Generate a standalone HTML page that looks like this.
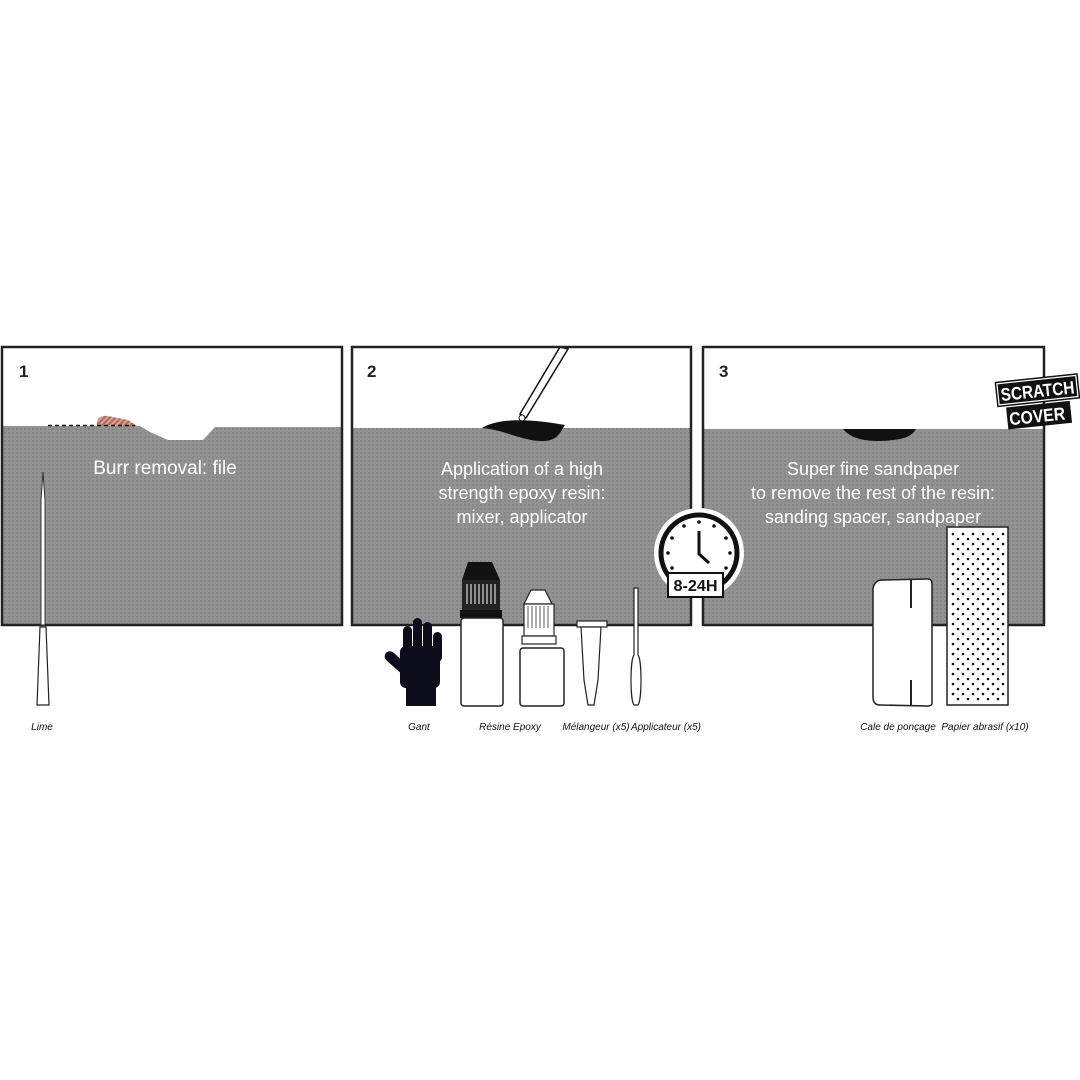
<!DOCTYPE html>
<html><head><meta charset="utf-8"><style>
html,body{margin:0;padding:0;background:#fff}
svg{display:block}
text{font-family:"Liberation Sans",sans-serif}
</style></head><body>
<svg width="1080" height="1080" viewBox="0 0 1080 1080" xmlns="http://www.w3.org/2000/svg">
<defs>
<pattern id="dots" width="4" height="4" patternUnits="userSpaceOnUse">
<rect width="4" height="4" fill="#929292"/><rect width="2" height="2" fill="#868686"/>
</pattern>
<pattern id="hatch" width="4" height="4" patternUnits="userSpaceOnUse" patternTransform="rotate(45)">
<rect width="4" height="4" fill="#d9a49a"/><rect width="2" height="4" fill="#b06a5c"/>
</pattern>
</defs>

<!-- Panel 1 -->
<rect x="2" y="347" width="340" height="278" fill="#fff"/>
<path d="M2,426 L140,426 L150,432 L168,440 L203,440 L215,427 L342,427 L342,625 L2,625 Z" fill="url(#dots)"/>
<path d="M97,426 C96,418 100,415 108,416 L128,420 L137,426 Z" fill="url(#hatch)"/>
<line x1="48" y1="425.5" x2="135" y2="425.5" stroke="#111" stroke-width="1.5" stroke-dasharray="4,3"/>
<rect x="2" y="347" width="340" height="278" fill="none" stroke="#222" stroke-width="2.5"/>
<text x="19" y="377" font-size="17" font-weight="900" fill="#222">1</text>
<text x="165" y="474" font-size="19" fill="#fff" text-anchor="middle">Burr removal: file</text>
<path d="M43,472 L45,500 L45,625 L41,625 L41,500 Z" fill="#fff" stroke="#333" stroke-width="1"/>
<path d="M40,627 L46,627 L49,705 L37,705 Z" fill="#fff" stroke="#222" stroke-width="1.2"/>
<text x="42" y="730" font-size="10" font-style="italic" fill="#111" text-anchor="middle">Lime</text>

<!-- Panel 2 -->
<rect x="352" y="347" width="339" height="278" fill="#fff"/>
<rect x="352" y="428" width="339" height="197" fill="url(#dots)"/>
<path d="M482,428 C495,420 520,417 565,425 C560,432 558,442 540,441 C520,440 505,430 482,428 Z" fill="#111"/>
<path d="M520,414 L560,347 L568,349 L526,418 Z" fill="#fff" stroke="#111" stroke-width="1.5"/>
<circle cx="522" cy="418" r="3" fill="#fff" stroke="#111"/>
<rect x="352" y="347" width="339" height="278" fill="none" stroke="#222" stroke-width="2.5"/>
<text x="367" y="377" font-size="17" font-weight="900" fill="#222">2</text>
<text x="522" y="475" font-size="18" fill="#fff" text-anchor="middle">Application of a high</text>
<text x="522" y="499" font-size="18" fill="#fff" text-anchor="middle">strength epoxy resin:</text>
<text x="522" y="523" font-size="18" fill="#fff" text-anchor="middle">mixer, applicator</text>

<!-- glove -->
<g fill="#0c0c1a">
<rect x="400" y="646" width="40" height="42" rx="6"/>
<rect x="403" y="626" width="9" height="36" rx="4.5"/>
<rect x="413" y="618" width="9" height="40" rx="4.5"/>
<rect x="423" y="622" width="9" height="36" rx="4.5"/>
<rect x="433" y="632" width="9" height="30" rx="4.5"/>
<path d="M386,660 C382,655 388,648 394,653 L406,664 L404,676 Z"/>
<rect x="406" y="680" width="30" height="26"/>
</g>
<!-- big bottle -->
<path d="M468,562 L492,562 L500,580 L462,580 Z" fill="#111"/>
<rect x="462" y="580" width="38" height="30" fill="#222"/>
<g stroke="#fff" stroke-width="1"><line x1="467" y1="584" x2="467" y2="604"/><line x1="471" y1="584" x2="471" y2="604"/><line x1="475" y1="584" x2="475" y2="604"/><line x1="479" y1="584" x2="479" y2="604"/><line x1="483" y1="584" x2="483" y2="604"/><line x1="487" y1="584" x2="487" y2="604"/><line x1="491" y1="584" x2="491" y2="604"/><line x1="495" y1="584" x2="495" y2="604"/></g>
<rect x="460" y="610" width="42" height="8" fill="#111"/>
<rect x="461" y="618" width="42" height="88" rx="3" fill="#fff" stroke="#222" stroke-width="1.5"/>
<!-- small bottle -->
<path d="M531,590 L545,590 L552,604 L524,604 Z" fill="#fff" stroke="#222" stroke-width="1.2"/>
<rect x="524" y="604" width="30" height="32" fill="#fff" stroke="#222" stroke-width="1.2"/>
<g stroke="#333" stroke-width="0.8"><line x1="528" y1="606" x2="528" y2="628"/><line x1="532" y1="606" x2="532" y2="628"/><line x1="536" y1="606" x2="536" y2="628"/><line x1="540" y1="606" x2="540" y2="628"/><line x1="544" y1="606" x2="544" y2="628"/><line x1="548" y1="606" x2="548" y2="628"/></g>
<rect x="522" y="636" width="34" height="8" fill="#fff" stroke="#222" stroke-width="1.2"/>
<rect x="520" y="648" width="44" height="58" rx="3" fill="#fff" stroke="#222" stroke-width="1.5"/>
<!-- mixer -->
<rect x="577" y="621" width="30" height="6" fill="#fff" stroke="#222" stroke-width="1.2"/>
<path d="M581,627 L601,627 L598,680 L594,705 L588,705 L584,680 Z" fill="#fff" stroke="#222" stroke-width="1.2"/>
<!-- applicator -->
<path d="M634,588 L638,588 L638,655 C642,660 642,700 638,705 L634,705 C630,700 630,660 634,655 Z" fill="#fff" stroke="#222" stroke-width="1.2"/>
<g font-size="10" font-style="italic" fill="#111" text-anchor="middle">
<text x="419" y="730">Gant</text><text x="510" y="730">Résine Epoxy</text><text x="596" y="730">Mélangeur (x5)</text><text x="666" y="730">Applicateur (x5)</text>
</g>

<!-- Panel 3 -->
<rect x="703" y="347" width="341" height="278" fill="#fff"/>
<rect x="703" y="429" width="341" height="196" fill="url(#dots)"/>
<path d="M843,429 L916,429 C912,436 905,440 880,441 C860,441 850,437 843,429 Z" fill="#111"/>
<rect x="703" y="347" width="341" height="278" fill="none" stroke="#222" stroke-width="2.5"/>
<text x="719" y="377" font-size="17" font-weight="900" fill="#222">3</text>
<text x="873" y="475" font-size="18" fill="#fff" text-anchor="middle">Super fine sandpaper</text>
<text x="873" y="499" font-size="18" fill="#fff" text-anchor="middle">to remove the rest of the resin:</text>
<text x="873" y="523" font-size="18" fill="#fff" text-anchor="middle">sanding spacer, sandpaper</text>
<path d="M882,580 L928,579 C931,579 932,581 932,584 L932,703 C932,705 930,706 928,706 L880,705 C875,705 873,702 873,697 L873,590 C873,584 877,580 882,580 Z" fill="#fff" stroke="#222" stroke-width="1.5"/>
<line x1="911" y1="580" x2="911" y2="608" stroke="#222" stroke-width="2"/>
<line x1="911" y1="680" x2="911" y2="706" stroke="#222" stroke-width="2"/>
<rect x="947" y="527" width="61" height="178" fill="#fff" stroke="#222" stroke-width="1.5"/>
<pattern id="sp" x="950" y="531" width="10" height="10" patternUnits="userSpaceOnUse"><circle cx="3" cy="3" r="1.3" fill="#111"/><circle cx="8" cy="8" r="1.3" fill="#111"/></pattern>
<rect x="950" y="531" width="55" height="171" fill="url(#sp)"/>
<g font-size="10" font-style="italic" fill="#111" text-anchor="middle">
<text x="898" y="730">Cale de ponçage</text><text x="985" y="730">Papier abrasif (x10)</text>
</g>
<!-- logo -->
<g transform="rotate(-6 1040 405)">
<rect x="998" y="378" width="82" height="24" fill="#fff" stroke="#111" stroke-width="1.5"/>
<rect x="1000" y="380" width="78" height="20" fill="#111"/>
<text x="1039" y="397" font-size="18" font-weight="bold" fill="#fff" text-anchor="middle" textLength="74" lengthAdjust="spacingAndGlyphs">SCRATCH</text>
<rect x="1006" y="404" width="64" height="22" fill="#111"/>
<text x="1036" y="422" font-size="18" font-weight="bold" fill="#fff" text-anchor="middle" textLength="56" lengthAdjust="spacingAndGlyphs">COVER</text>
</g>

<!-- clock -->
<rect x="694" y="626" width="10" height="10" fill="#fff"/>
<circle cx="699" cy="553" r="45" fill="#fff"/>
<circle cx="699" cy="553" r="38" fill="#fff" stroke="#111" stroke-width="5"/>
<g fill="#111">
<circle cx="699" cy="522" r="1.8"/><circle cx="714" cy="526" r="1.8"/><circle cx="726" cy="538" r="1.8"/><circle cx="730" cy="553" r="1.8"/><circle cx="726" cy="568" r="1.8"/>
<circle cx="684" cy="526" r="1.8"/><circle cx="672" cy="538" r="1.8"/><circle cx="668" cy="553" r="1.8"/><circle cx="672" cy="568" r="1.8"/>
</g>
<path d="M699,531 L699,554 L709,563" fill="none" stroke="#111" stroke-width="3"/>
<rect x="668" y="573" width="55" height="24" fill="#fff" stroke="#111" stroke-width="2"/>
<text x="695.5" y="591" font-size="16" font-weight="bold" fill="#111" text-anchor="middle" textLength="44" lengthAdjust="spacingAndGlyphs">8-24H</text>
</svg>
</body></html>
